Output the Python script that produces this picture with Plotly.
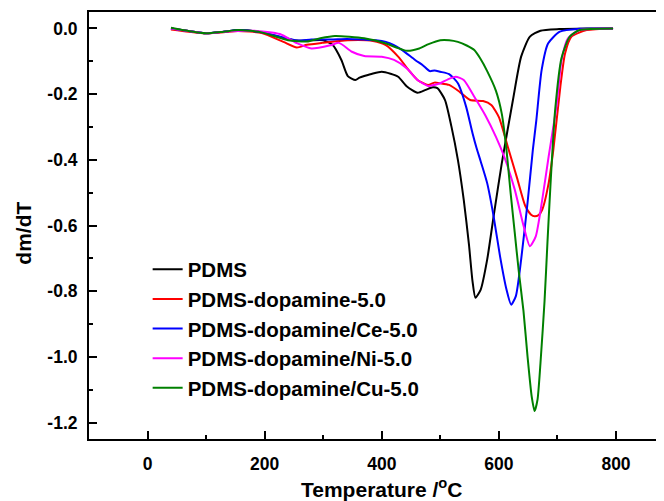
import plotly.graph_objects as go

# DTG curves (temperature in degC, dm/dT)
pdms_t = [40, 70, 100, 130, 155, 195, 230, 255, 280, 300, 316, 331, 342, 355, 362, 370, 385, 400, 415, 428,
          443, 461, 475, 487, 495, 508, 519, 530, 540, 549, 555, 560, 569, 580, 591, 605, 624, 638, 653, 671,
          703, 750, 795]
pdms_v = [0, -0.008, -0.015, -0.01, -0.005, -0.012, -0.028, -0.037, -0.036, -0.036, -0.05, -0.096, -0.145,
          -0.157, -0.15, -0.145, -0.137, -0.132, -0.138, -0.147, -0.177, -0.196, -0.187, -0.179, -0.182, -0.218,
          -0.299, -0.40, -0.522, -0.66, -0.77, -0.820, -0.795, -0.704, -0.572, -0.41, -0.218, -0.086, -0.025,
          -0.007, -0.002, 0, 0]

dopa_t = [40, 70, 100, 130, 154, 195, 232, 255, 272, 298, 342, 385, 407, 428, 446, 461, 479, 490, 500, 515,
          533, 551, 573, 587, 600, 616, 631, 645, 655, 661, 668, 674, 685, 693, 705, 713, 724, 750, 795]
dopa_v = [-0.003, -0.01, -0.015, -0.012, -0.008, -0.014, -0.041, -0.058, -0.05, -0.044, -0.036, -0.038, -0.051,
          -0.086, -0.127, -0.157, -0.172, -0.165, -0.167, -0.172, -0.193, -0.218, -0.221, -0.233, -0.27, -0.365,
          -0.455, -0.54, -0.567, -0.572, -0.568, -0.552, -0.471, -0.37, -0.177, -0.076, -0.025, -0.005, 0]

ce_t = [40, 70, 100, 130, 155, 195, 230, 255, 280, 313, 340, 370, 390, 407, 420, 435, 457, 470, 482, 490, 500,
        515, 530, 544, 555, 562, 569, 580, 591, 602, 613, 621, 629, 638, 649, 658, 664, 673, 684, 704, 738, 795]
ce_v = [0, -0.008, -0.015, -0.01, -0.005, -0.012, -0.027, -0.037, -0.034, -0.034, -0.032, -0.034, -0.036, -0.041,
        -0.05, -0.066, -0.096, -0.112, -0.13, -0.128, -0.132, -0.139, -0.167, -0.238, -0.319, -0.365, -0.405,
        -0.471, -0.572, -0.694, -0.795, -0.841, -0.815, -0.704, -0.53, -0.37, -0.279, -0.127, -0.046, -0.01,
        -0.001, 0]

ni_t = [40, 70, 100, 130, 182, 226, 255, 280, 313, 327, 349, 370, 400, 421, 443, 461, 479, 490, 500, 513, 526,
        540, 558, 577, 595, 609, 627, 642, 653, 663, 674, 685, 699, 707, 718, 738, 795]
ni_v = [0, -0.008, -0.015, -0.01, -0.007, -0.017, -0.045, -0.061, -0.051, -0.044, -0.071, -0.084, -0.086, -0.096,
        -0.122, -0.157, -0.175, -0.172, -0.167, -0.155, -0.147, -0.157, -0.208, -0.265, -0.33, -0.39, -0.49,
        -0.60, -0.663, -0.633, -0.522, -0.39, -0.228, -0.096, -0.03, -0.005, 0]

cu_t = [40, 70, 100, 130, 155, 195, 240, 272, 295, 320, 370, 407, 425, 443, 464, 480, 500, 515, 530, 545, 558,
        568, 580, 595, 605, 613, 620, 627, 634, 642, 649, 656, 661, 666, 671, 678, 683, 688, 696, 707, 721, 738,
        795]
cu_v = [0.002, -0.008, -0.015, -0.01, -0.005, -0.012, -0.036, -0.04, -0.03, -0.023, -0.03, -0.046, -0.058, -0.068,
        -0.061, -0.048, -0.036, -0.036, -0.041, -0.052, -0.066, -0.091, -0.13, -0.19, -0.26, -0.37, -0.50, -0.62,
        -0.74, -0.86, -1.0, -1.12, -1.165, -1.13, -1.02, -0.83, -0.65, -0.48, -0.25, -0.09, -0.025, -0.005, 0]

names = ['PDMS', 'PDMS-dopamine-5.0', 'PDMS-dopamine/Ce-5.0', 'PDMS-dopamine/Ni-5.0', 'PDMS-dopamine/Cu-5.0']
colors = ['#000000', '#ff0000', '#0000ff', '#ff00ff', '#008000']

y_ticks = [0.0, -0.2, -0.4, -0.6, -0.8, -1.0, -1.2]
y_ticktext = ['0.0', '-0.2', '-0.4', '-0.6', '-0.8', '-1.0', '-1.2']
x_ticks = [0, 200, 400, 600, 800]

font_fam = 'Liberation Sans, Arial, sans-serif'

fig = go.Figure()
series = [(pdms_t, pdms_v), (dopa_t, dopa_v), (ce_t, ce_v), (ni_t, ni_v), (cu_t, cu_v)]
for (t, v), nm, c in zip(series, names, colors):
    fig.add_trace(go.Scatter(x=t, y=v, mode='lines', name=nm,
                             line=dict(color=c, width=2, shape='spline', smoothing=0.6)))

# page body has an 8px margin, so the figure is 8px smaller than the window
fig.update_layout(
    width=656, height=493,
    margin=dict(l=81, r=0, t=4, b=62),
    paper_bgcolor='white', plot_bgcolor='white',
    font=dict(family=font_fam, color='black', weight='bold'),
    showlegend=True,
    legend=dict(x=0.102, y=0.444, xanchor='left', yanchor='top',
                font=dict(size=20.5, family=font_fam, weight='bold'),
                bgcolor='rgba(0,0,0,0)', tracegroupgap=0),
)

fig.add_annotation(text='Temperature /<sup>o</sup>C', xref='paper', yref='paper', x=0.509, y=-0.114,
                   xanchor='center', yanchor='middle', showarrow=False,
                   font=dict(size=21, family=font_fam, weight='bold'))
fig.add_annotation(text='dm/dT', xref='paper', yref='paper', x=-0.114, y=0.482, textangle=-90,
                   xanchor='center', yanchor='middle', showarrow=False,
                   font=dict(size=21, family=font_fam, weight='bold'))

fig.update_xaxes(
    range=[-100, 882], showgrid=False, zeroline=False, automargin=False,
    showline=True, linecolor='black', linewidth=2, mirror=True,
    ticks='inside', ticklen=8, tickwidth=1.5, tickcolor='black',
    tickvals=x_ticks, ticklabelstandoff=8,
    tickfont=dict(size=17.5, family=font_fam, weight='bold'),
    minor=dict(dtick=100, ticks='inside', ticklen=4, tickwidth=1.5, tickcolor='black'),
)
fig.update_yaxes(
    range=[-1.25, 0.05], showgrid=False, zeroline=False, automargin=False,
    showline=True, linecolor='black', linewidth=2, mirror=False,
    ticks='inside', ticklen=8, tickwidth=1.5, tickcolor='black',
    tickvals=y_ticks, ticktext=y_ticktext, ticklabelstandoff=6,
    tickfont=dict(size=17.5, family=font_fam, weight='bold'),
    minor=dict(dtick=0.1, ticks='inside', ticklen=4, tickwidth=1.5, tickcolor='black'),
)

fig.write_html("out.html")
